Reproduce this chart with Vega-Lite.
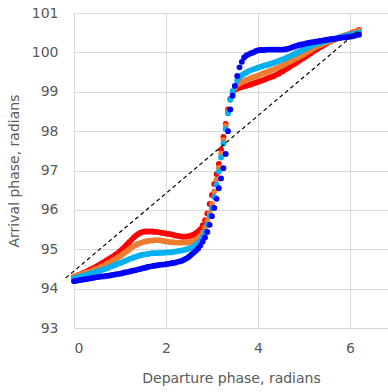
{
"$schema": "https://vega.github.io/schema/vega-lite/v6.json",
"width": 314, "height": 315,
"autosize": {"type": "none"},
"padding": {"left": 74, "top": 13, "right": 0, "bottom": 64},
"config": {"view": {"stroke": null}, "font": "DejaVu Sans"},
"layer": [
{
"data": {"values": [
{"x":0.00,"r":94.30,"o":94.30,"c":94.26,"b":94.19},
{"x":0.05,"r":94.32,"o":94.32,"c":94.28,"b":94.20},
{"x":0.10,"r":94.35,"o":94.34,"c":94.29,"b":94.21},
{"x":0.15,"r":94.37,"o":94.36,"c":94.31,"b":94.22},
{"x":0.20,"r":94.40,"o":94.38,"c":94.33,"b":94.23},
{"x":0.25,"r":94.42,"o":94.40,"c":94.34,"b":94.24},
{"x":0.30,"r":94.45,"o":94.42,"c":94.36,"b":94.25},
{"x":0.35,"r":94.48,"o":94.44,"c":94.38,"b":94.26},
{"x":0.40,"r":94.51,"o":94.46,"c":94.40,"b":94.27},
{"x":0.45,"r":94.54,"o":94.49,"c":94.41,"b":94.28},
{"x":0.50,"r":94.57,"o":94.51,"c":94.43,"b":94.29},
{"x":0.55,"r":94.60,"o":94.53,"c":94.45,"b":94.30},
{"x":0.60,"r":94.64,"o":94.56,"c":94.47,"b":94.31},
{"x":0.65,"r":94.67,"o":94.58,"c":94.49,"b":94.31},
{"x":0.70,"r":94.71,"o":94.62,"c":94.51,"b":94.32},
{"x":0.75,"r":94.75,"o":94.65,"c":94.53,"b":94.33},
{"x":0.80,"r":94.78,"o":94.68,"c":94.56,"b":94.34},
{"x":0.85,"r":94.82,"o":94.72,"c":94.58,"b":94.35},
{"x":0.90,"r":94.86,"o":94.75,"c":94.60,"b":94.36},
{"x":0.95,"r":94.90,"o":94.79,"c":94.63,"b":94.37},
{"x":1.00,"r":94.95,"o":94.82,"c":94.65,"b":94.38},
{"x":1.05,"r":95.00,"o":94.86,"c":94.67,"b":94.39},
{"x":1.10,"r":95.06,"o":94.91,"c":94.70,"b":94.41},
{"x":1.15,"r":95.12,"o":94.95,"c":94.72,"b":94.42},
{"x":1.20,"r":95.18,"o":95.00,"c":94.75,"b":94.43},
{"x":1.25,"r":95.24,"o":95.04,"c":94.77,"b":94.45},
{"x":1.30,"r":95.30,"o":95.08,"c":94.79,"b":94.46},
{"x":1.35,"r":95.35,"o":95.11,"c":94.81,"b":94.47},
{"x":1.40,"r":95.39,"o":95.14,"c":94.83,"b":94.49},
{"x":1.45,"r":95.42,"o":95.16,"c":94.85,"b":94.50},
{"x":1.50,"r":95.44,"o":95.18,"c":94.86,"b":94.52},
{"x":1.55,"r":95.45,"o":95.20,"c":94.87,"b":94.53},
{"x":1.60,"r":95.45,"o":95.21,"c":94.88,"b":94.55},
{"x":1.65,"r":95.45,"o":95.22,"c":94.89,"b":94.56},
{"x":1.70,"r":95.45,"o":95.22,"c":94.90,"b":94.57},
{"x":1.75,"r":95.44,"o":95.23,"c":94.90,"b":94.58},
{"x":1.80,"r":95.44,"o":95.23,"c":94.90,"b":94.59},
{"x":1.85,"r":95.43,"o":95.23,"c":94.91,"b":94.60},
{"x":1.90,"r":95.42,"o":95.22,"c":94.91,"b":94.61},
{"x":1.95,"r":95.41,"o":95.21,"c":94.91,"b":94.61},
{"x":2.00,"r":95.40,"o":95.20,"c":94.92,"b":94.62},
{"x":2.05,"r":95.39,"o":95.19,"c":94.92,"b":94.63},
{"x":2.10,"r":95.38,"o":95.18,"c":94.92,"b":94.64},
{"x":2.15,"r":95.37,"o":95.18,"c":94.93,"b":94.65},
{"x":2.20,"r":95.35,"o":95.17,"c":94.94,"b":94.66},
{"x":2.25,"r":95.34,"o":95.17,"c":94.95,"b":94.68},
{"x":2.30,"r":95.33,"o":95.17,"c":94.96,"b":94.69},
{"x":2.35,"r":95.32,"o":95.17,"c":94.97,"b":94.71},
{"x":2.40,"r":95.32,"o":95.17,"c":94.98,"b":94.74},
{"x":2.45,"r":95.32,"o":95.17,"c":95.00,"b":94.77},
{"x":2.50,"r":95.33,"o":95.18,"c":95.02,"b":94.81},
{"x":2.55,"r":95.35,"o":95.20,"c":95.04,"b":94.86},
{"x":2.60,"r":95.37,"o":95.22,"c":95.07,"b":94.91},
{"x":2.65,"r":95.41,"o":95.24,"c":95.11,"b":94.96},
{"x":2.70,"r":95.45,"o":95.28,"c":95.16,"b":95.02},
{"x":2.75,"r":95.51,"o":95.34,"c":95.22,"b":95.10},
{"x":2.80,"r":95.61,"o":95.42,"c":95.31,"b":95.20},
{"x":2.85,"r":95.74,"o":95.55,"c":95.44,"b":95.30},
{"x":2.90,"r":95.91,"o":95.72,"c":95.63,"b":95.44},
{"x":2.95,"r":96.15,"o":95.93,"c":95.85,"b":95.62},
{"x":3.00,"r":96.38,"o":96.15,"c":96.05,"b":95.84},
{"x":3.05,"r":96.66,"o":96.47,"c":96.33,"b":96.05},
{"x":3.10,"r":96.91,"o":96.77,"c":96.64,"b":96.28},
{"x":3.15,"r":97.17,"o":97.07,"c":96.97,"b":96.55},
{"x":3.20,"r":97.53,"o":97.43,"c":97.33,"b":96.80},
{"x":3.25,"r":97.85,"o":97.77,"c":97.68,"b":97.06},
{"x":3.30,"r":98.18,"o":98.13,"c":98.05,"b":97.42},
{"x":3.35,"r":98.55,"o":98.50,"c":98.45,"b":98.00},
{"x":3.40,"r":98.82,"o":98.80,"c":98.80,"b":98.55},
{"x":3.45,"r":98.97,"o":98.98,"c":99.02,"b":98.90},
{"x":3.50,"r":99.05,"o":99.10,"c":99.15,"b":99.15},
{"x":3.55,"r":99.08,"o":99.18,"c":99.28,"b":99.40},
{"x":3.60,"r":99.10,"o":99.21,"c":99.36,"b":99.62},
{"x":3.65,"r":99.12,"o":99.24,"c":99.42,"b":99.76},
{"x":3.70,"r":99.14,"o":99.27,"c":99.46,"b":99.87},
{"x":3.75,"r":99.15,"o":99.30,"c":99.49,"b":99.92},
{"x":3.80,"r":99.17,"o":99.32,"c":99.52,"b":99.95},
{"x":3.85,"r":99.19,"o":99.35,"c":99.55,"b":99.98},
{"x":3.90,"r":99.21,"o":99.37,"c":99.57,"b":100.00},
{"x":3.95,"r":99.23,"o":99.39,"c":99.59,"b":100.03},
{"x":4.00,"r":99.25,"o":99.41,"c":99.61,"b":100.05},
{"x":4.05,"r":99.27,"o":99.43,"c":99.63,"b":100.06},
{"x":4.10,"r":99.29,"o":99.46,"c":99.65,"b":100.06},
{"x":4.15,"r":99.31,"o":99.48,"c":99.67,"b":100.06},
{"x":4.20,"r":99.34,"o":99.50,"c":99.68,"b":100.07},
{"x":4.25,"r":99.36,"o":99.53,"c":99.70,"b":100.07},
{"x":4.30,"r":99.38,"o":99.55,"c":99.72,"b":100.07},
{"x":4.35,"r":99.40,"o":99.57,"c":99.74,"b":100.07},
{"x":4.40,"r":99.43,"o":99.60,"c":99.76,"b":100.07},
{"x":4.45,"r":99.46,"o":99.62,"c":99.78,"b":100.07},
{"x":4.50,"r":99.50,"o":99.65,"c":99.81,"b":100.07},
{"x":4.55,"r":99.53,"o":99.68,"c":99.83,"b":100.07},
{"x":4.60,"r":99.57,"o":99.71,"c":99.85,"b":100.08},
{"x":4.65,"r":99.60,"o":99.74,"c":99.88,"b":100.09},
{"x":4.70,"r":99.64,"o":99.77,"c":99.90,"b":100.11},
{"x":4.75,"r":99.68,"o":99.80,"c":99.93,"b":100.13},
{"x":4.80,"r":99.71,"o":99.83,"c":99.96,"b":100.15},
{"x":4.85,"r":99.75,"o":99.86,"c":99.99,"b":100.17},
{"x":4.90,"r":99.79,"o":99.89,"c":100.02,"b":100.19},
{"x":4.95,"r":99.83,"o":99.92,"c":100.05,"b":100.20},
{"x":5.00,"r":99.86,"o":99.95,"c":100.08,"b":100.21},
{"x":5.05,"r":99.90,"o":99.99,"c":100.10,"b":100.23},
{"x":5.10,"r":99.94,"o":100.02,"c":100.13,"b":100.24},
{"x":5.15,"r":99.98,"o":100.06,"c":100.16,"b":100.25},
{"x":5.20,"r":100.02,"o":100.10,"c":100.18,"b":100.26},
{"x":5.25,"r":100.06,"o":100.13,"c":100.21,"b":100.27},
{"x":5.30,"r":100.09,"o":100.16,"c":100.23,"b":100.28},
{"x":5.35,"r":100.13,"o":100.18,"c":100.24,"b":100.29},
{"x":5.40,"r":100.16,"o":100.21,"c":100.26,"b":100.30},
{"x":5.45,"r":100.20,"o":100.23,"c":100.28,"b":100.31},
{"x":5.50,"r":100.23,"o":100.26,"c":100.30,"b":100.32},
{"x":5.55,"r":100.27,"o":100.28,"c":100.31,"b":100.33},
{"x":5.60,"r":100.29,"o":100.30,"c":100.33,"b":100.34},
{"x":5.65,"r":100.32,"o":100.32,"c":100.34,"b":100.34},
{"x":5.70,"r":100.34,"o":100.34,"c":100.36,"b":100.35},
{"x":5.75,"r":100.36,"o":100.36,"c":100.37,"b":100.36},
{"x":5.80,"r":100.39,"o":100.38,"c":100.39,"b":100.37},
{"x":5.85,"r":100.41,"o":100.41,"c":100.40,"b":100.38},
{"x":5.90,"r":100.43,"o":100.43,"c":100.42,"b":100.38},
{"x":5.95,"r":100.45,"o":100.45,"c":100.43,"b":100.39},
{"x":6.00,"r":100.47,"o":100.47,"c":100.45,"b":100.40},
{"x":6.05,"r":100.50,"o":100.49,"c":100.46,"b":100.41},
{"x":6.10,"r":100.52,"o":100.51,"c":100.47,"b":100.42},
{"x":6.15,"r":100.54,"o":100.53,"c":100.49,"b":100.44},
{"x":6.20,"r":100.57,"o":100.55,"c":100.50,"b":100.45}
]},
"transform": [{"fold": ["r", "o", "c", "b"], "as": ["series", "y"]}],
"mark": {"type": "circle", "size": 34, "opacity": 1},
"encoding": {
"x": {"field": "x", "type": "quantitative",
"scale": {"domain": [0, 6.83], "nice": false, "zero": false},
"axis": {"values": [0, 2, 4, 6], "tickCount": 10, "format": "d", "title": "Departure phase, radians", "grid": true, "gridColor": "#d9d9d9", "ticks": false, "domainColor": "#d9d9d9", "labelColor": "#595959", "labelFontSize": 14, "labelPadding": 13, "labelOverlap": false, "titleColor": "#595959", "titleFontSize": 14, "titleFontWeight": "normal", "titlePadding": 16}},
"y": {"field": "y", "type": "quantitative",
"scale": {"domain": [93, 101], "nice": false, "zero": false},
"axis": {"values": [93, 94, 95, 96, 97, 98, 99, 100, 101], "tickCount": 20, "format": "d", "title": "Arrival phase, radians", "grid": true, "gridColor": "#d9d9d9", "ticks": false, "domainColor": "#d9d9d9", "labelColor": "#595959", "labelFontSize": 14, "labelPadding": 16, "labelOverlap": false, "titleColor": "#595959", "titleFontSize": 14, "titleFontWeight": "normal", "titlePadding": 10}},
"color": {"field": "series", "type": "nominal",
"scale": {"domain": ["r", "o", "c", "b"], "range": ["#ff0000", "#ed7d31", "#00b0f0", "#0000ff"]}, "legend": null},
"order": {"field": "series", "sort": "descending"}
}
},
{
"data": {"values": [{"x": -0.18, "y": 94.27}, {"x": 6.2, "y": 100.56}]},
"mark": {"type": "line", "color": "black", "strokeDash": [4, 3], "strokeWidth": 1.2},
"encoding": {"x": {"field": "x", "type": "quantitative"}, "y": {"field": "y", "type": "quantitative"}}
}
]
}
